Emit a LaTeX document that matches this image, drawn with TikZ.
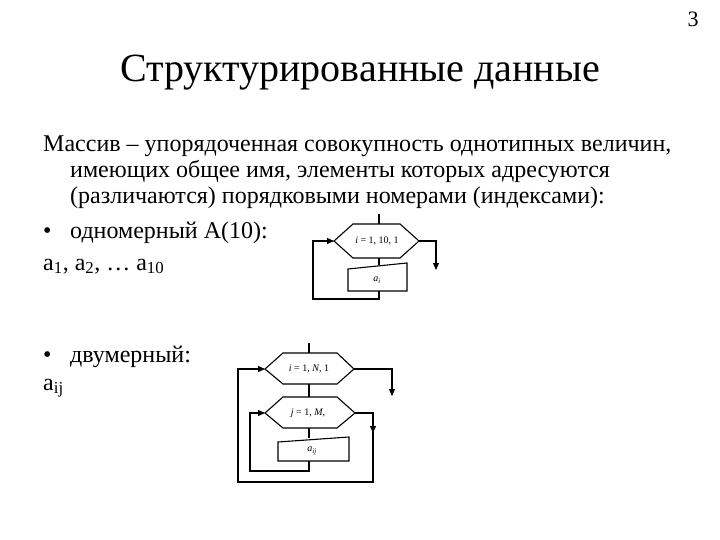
\documentclass[tikz,border=0pt]{standalone}
\usepackage{fontspec}
\setmainfont{Liberation Serif}
\usetikzlibrary{arrows.meta}
\begin{document}
\begin{tikzpicture}[x=1pt,y=-1pt,
  ln/.style={line width=1.1pt},
  arr/.style={ln,-{Triangle[length=7pt,width=6pt]}},
  body/.style={anchor=base west,inner sep=0pt,font=\fontsize{24}{28}\selectfont},
  lab/.style={font=\fontsize{10}{12}\selectfont}]
\useasboundingbox (0,0) rectangle (720,540);
\node[anchor=base,inner sep=0pt,font=\fontsize{22}{26}\selectfont] (pg) at (693,27) {3};
\node[anchor=base,inner sep=0pt,font=\fontsize{40}{46}\selectfont] (title) at (360,82) {Структурированные данные};
\node[body] (t1) at (43,152) {Массив – упорядоченная совокупность однотипных величин,};
\node[body] (t2) at (70,178) {имеющих общее имя, элементы которых адресуются};
\node[body] (t3) at (70,204) {(различаются) порядковыми номерами (индексами):};
\node[body] (t4) at (43,238) {•};
\node[body] (t4b) at (70,238) {одномерный A(10):};
\node[body] (t5) at (43,270) {a\textsubscript{1}, a\textsubscript{2}, … a\textsubscript{10}};
\node[body] (t6) at (43,362) {•};
\node[body] (t6b) at (70,362) {двумерный:};
\node[body] (t7) at (43,390) {a\textsubscript{ij}};
% chart 1
\coordinate (a0) at (379,214);
\coordinate (a1) at (379,224);
\draw[ln] (334,241) -- (353,224) -- (400,224) -- (419,241) -- (400,258) -- (353,258) -- cycle;
\node[lab] (h1) at (377,241) {\textit{i} = 1, 10, 1};
\draw[ln] (a0) -- (a1);
\draw[ln] (379,258) -- (379,265);
\draw[ln] (348,269) -- (407,263) -- (407,291) -- (348,291) -- cycle;
\node[lab] (p1) at (377,280) {\textit{a\textsubscript{i}}};
\coordinate (l1) at (313,299);
\draw[arr] (379,291) -- (379,299) -- (l1) -- (313,241) -- (334,241);
\draw[arr] (419,241) -- (436,241) -- (436,270);
% chart 2
\draw[ln] (265,369) -- (283,353) -- (337,353) -- (354,369) -- (337,384) -- (283,384) -- cycle;
\node[lab] (h2) at (309,369) {\textit{i} = 1, \textit{N}, 1};
\draw[ln] (265,413) -- (283,397) -- (337,397) -- (355,413) -- (337,428) -- (283,428) -- cycle;
\node[lab] (h3) at (308,413) {\textit{j} = 1, \textit{M},};
\draw[ln] (309,343) -- (309,353);
\draw[ln] (309,384) -- (309,397);
\draw[ln] (309,428) -- (309,438);
\draw[ln] (278,442) -- (349,437) -- (349,461) -- (278,461) -- cycle;
\node[lab] (p2) at (312,451) {\textit{a\textsubscript{ij}}};
\draw[arr] (309,461) -- (309,471) -- (250,471) -- (250,413) -- (265,413);
\draw[arr] (355,413) -- (373,413) -- (373,433);
\draw[arr] (373,430) -- (373,482) -- (238,482) -- (238,369) -- (265,369);
\draw[arr] (354,369) -- (392,369) -- (392,396);
\end{tikzpicture}
\end{document}
